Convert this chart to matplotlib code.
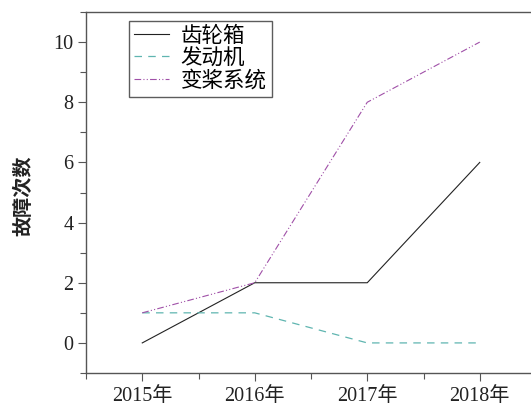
import matplotlib
matplotlib.use('Agg')
import matplotlib.pyplot as plt
from matplotlib.ticker import MultipleLocator

plt.rcParams['font.family'] = ['Liberation Serif', 'Noto Sans CJK SC']

# Data ------------------------------------------------------------------------
YEARS = [2015, 2016, 2017, 2018]
YEAR_LABELS = ['2015年', '2016年', '2017年', '2018年']
GEARBOX = [0, 2, 2, 6]
ENGINE = [1, 1, 0, 0]
PITCH = [1, 2, 8, 10]
NAMES = ['齿轮箱', '发动机', '变桨系统']

# Plot ------------------------------------------------------------------------
fig = plt.figure(figsize=(5.31, 4.05), dpi=100)
ax = fig.add_axes([86/531, 32/405, 450/531, 361/405])
ax.plot(YEARS, GEARBOX, color='#222222', lw=0.8, ls='-', label=NAMES[0])
ax.plot(YEARS, ENGINE, color='#5fb5b0', lw=0.9, ls=(0, (6, 5)), label=NAMES[1])
ax.plot(YEARS, PITCH, color='#a050a8', lw=0.8, ls=(0, (6, 2, 1, 2, 1, 2)), label=NAMES[2])

ax.set_xlim(2014.5, 2018.5)
ax.set_ylim(-1, 11)
ax.set_xticks(YEARS)
ax.set_xticklabels(YEAR_LABELS)
ax.xaxis.set_minor_locator(MultipleLocator(0.5))
ax.yaxis.set_major_locator(MultipleLocator(2))
ax.yaxis.set_minor_locator(MultipleLocator(1))
ax.tick_params(which='both', direction='out', color='#555555', labelsize=14.5,
               labelcolor='#222222')
ax.tick_params(which='major', length=6, width=0.8)
ax.tick_params(which='minor', length=4, width=0.8)
ax.tick_params(axis='x', pad=4)
ax.tick_params(axis='y', pad=3)
for s in ['left', 'bottom', 'top']:
    ax.spines[s].set_color('#555555')
    ax.spines[s].set_linewidth(1.0)
ax.spines['right'].set_visible(False)

ax.set_ylabel('故障次数', fontsize=14.5, fontweight='bold', color='#222222')
ax.yaxis.set_label_coords(-0.115, 0.49)

leg = ax.legend(loc='upper left', bbox_to_anchor=(0.095, 0.975), fontsize=15.5,
                frameon=True, fancybox=False, edgecolor='#333333',
                handlelength=1.6, handletextpad=0.55, borderpad=0.25,
                labelspacing=0.1, borderaxespad=0)
leg.get_frame().set_linewidth(1.0)

fig.savefig('out.png', dpi=100, facecolor='white')
plt.close('all')
